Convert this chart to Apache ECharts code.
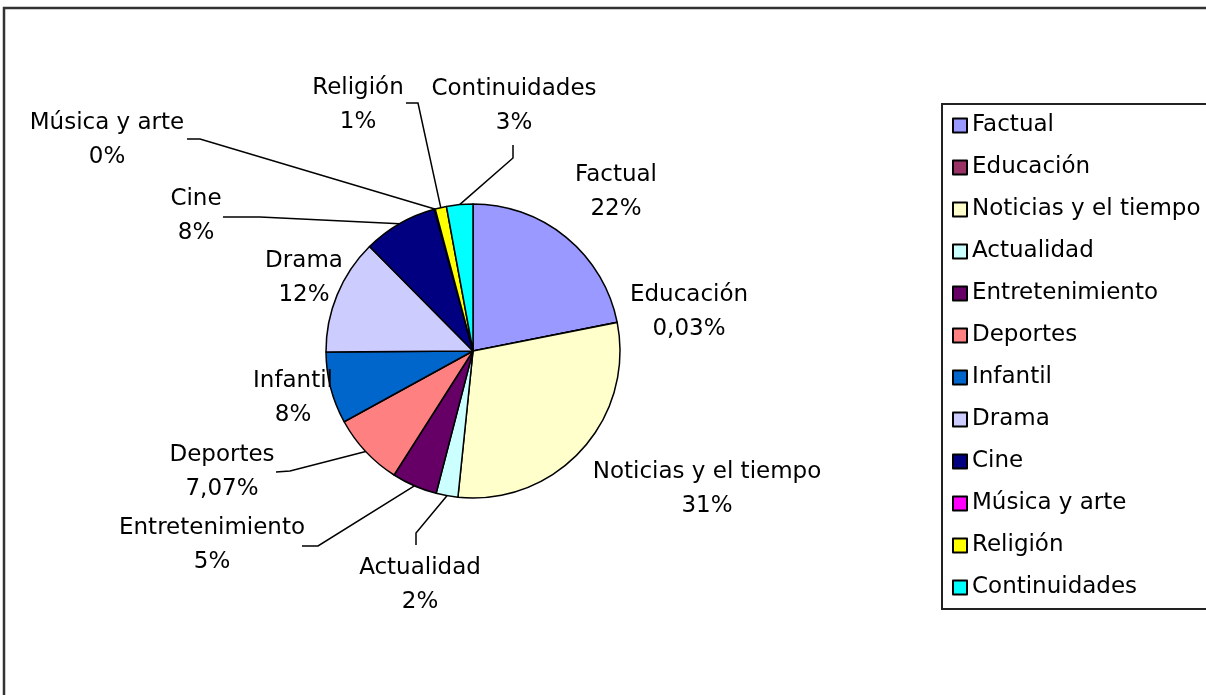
<!DOCTYPE html>
<html>
<head>
<meta charset="utf-8">
<script src="https://cdn.jsdelivr.net/npm/echarts@6/dist/echarts.min.js"></script>
<style>
  html, body { margin: 0; background: #fff; }
  #chart { width: 1206px; height: 695px; }
</style>
</head>
<body>
<div id="chart"></div>
<script>
// categorias y valores (porcentaje de cada sector)
var categories = ["Factual", "Educación", "Noticias y el tiempo", "Actualidad", "Entretenimiento",
  "Deportes", "Infantil", "Drama", "Cine", "Música y arte", "Religión", "Continuidades"];
var values = [21.9, 0.03, 29.8, 2.4, 5.0, 8.0, 7.9, 12.7, 8.2, 0.1, 1.25, 2.9];
// textos de porcentaje tal como salen en las etiquetas
var pctLabels = ["22%", "0,03%", "31%", "2%", "5%", "7,07%", "8%", "12%", "8%", "0%", "1%", "3%"];

var colors = ["#9999FF", "#993366", "#FFFFCC", "#CCFFFF", "#660066", "#FF8080",
  "#0066CC", "#CCCCFF", "#000080", "#FF00FF", "#FFFF00", "#00FFFF"];

// posicion de cada etiqueta (centro del texto)
var labelCenter = [[616, 192], [689, 312], [707, 489], [420, 585], [212, 545], [222, 472],
  [293, 398], [304, 278], [196, 216], [107, 140], [358, 105], [514, 106]];
// lineas guia: punto de quiebre y punto final junto al texto
var leader = [null, null, null,
  [[416, 533], [416, 545]],
  [[318, 546], [302, 546]],
  [[290, 471], [276, 472]],
  null, null,
  [[260, 217], [223, 217]],
  [[200, 139], [187, 139]],
  [[418, 103], [406, 103]],
  [[513, 158], [513, 145]]];

(function () {
  var myChart = echarts.init(document.getElementById("chart"));
  var font = "DejaVu Sans";

  var data = categories.map(function (name, i) {
    return {
      name: name,
      value: values[i],
      itemStyle: { color: colors[i] },
      labelLine: { show: leader[i] != null },
    };
  });

  var option = {
    animation: false,
    graphic: [
      {
        //marco exterior
        type: "rect",
        shape: { x: 4, y: 8, width: 1400, height: 900 },
        style: { fill: "none", stroke: "#333", lineWidth: 2.5 },
        silent: true,
      },
    ],
    legend: {
      orient: "vertical",
      left: 942,
      top: 104,
      padding: [10, 10, 10, 10],
      itemWidth: 14,
      itemHeight: 14,
      itemGap: 19,
      borderColor: "#222",
      borderWidth: 2,
      icon: "rect",
      selectedMode: false,
      textStyle: {
        fontFamily: font,
        fontSize: 23,
        lineHeight: 23,
        color: "#000",
      },
      data: categories,
    },
    series: [
      {
        type: "pie",
        center: [473, 351],
        radius: 147,
        startAngle: 90,
        clockwise: true,
        avoidLabelOverlap: false,
        data: data,
        itemStyle: {
          borderColor: "#000",
          borderWidth: 1.5,
        },
        label: {
          show: true,
          position: "outside",
          fontFamily: font,
          fontSize: 23,
          lineHeight: 34,
          color: "#000",
          formatter: function (p) {
            return p.name + "\n" + pctLabels[p.dataIndex];
          },
        },
        labelLine: {
          lineStyle: { color: "#000", width: 1.5 },
        },
        labelLayout: function (params) {
          var i = params.dataIndex;
          var c = labelCenter[i];
          var out = { x: c[0], y: c[1], align: "center", verticalAlign: "middle" };
          if (leader[i] && params.labelLinePoints) {
            out.labelLinePoints = [params.labelLinePoints[0], leader[i][0], leader[i][1]];
          }
          return out;
        },
        emphasis: { disabled: true },
      },
    ],
  };
  myChart.setOption(option);
})();
</script>
</body>
</html>
